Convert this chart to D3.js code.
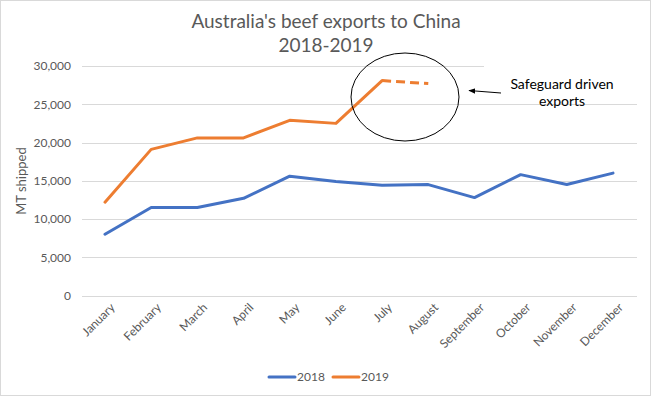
<!DOCTYPE html>
<html>
<head>
<meta charset="utf-8">
<script src="https://cdn.jsdelivr.net/npm/d3@7"></script>
<style>
  body { margin: 0; background: #fff; }
  svg { font-family: Lato, "Open Sans", sans-serif; }
</style>
</head>
<body>
<script>
var months = ["January", "February", "March", "April", "May", "June", "July",
  "August", "September", "October", "November", "December"];
var exports2018 = [8000, 11500, 11500, 12700, 15600, 14900, 14400, 14500, 12800, 15800, 14500, 16000];
var exports2019 = [12200, 19100, 20600, 20600, 22900, 22500, 28100, 27700];
var yTicks = [0, 5000, 10000, 15000, 20000, 25000, 30000];
var seriesNames = ["2018", "2019"];

var w = 651,
    h = 396;
var svg = d3.select('body').append('svg').attr("width", w).attr("height", h);

// outer frame
svg.append('rect')
  .attr("x", 0.5).attr("y", 0.5)
  .attr("width", w - 1).attr("height", h - 1)
  .attr("fill", "#fff").attr("stroke", "#d9d9d9");

var x = d3.scalePoint().domain(months).range([105, 613]);
var y = d3.scaleLinear().domain([0, 30000]).range([295.5, 66]);

// gridlines
svg.append('g').selectAll('line').data(yTicks).enter().append('line')
  .attr("x1", 82).attr("x2", 637)
  .attr("y1", function(d) { return Math.round(y(d)) + 0.5; })
  .attr("y2", function(d) { return Math.round(y(d)) + 0.5; })
  .attr("stroke", "#d9d9d9").attr("stroke-width", 1);

// y axis labels
var yAxis = d3.axisLeft(y).tickValues(yTicks).tickSize(0).tickPadding(0)
  .tickFormat(d3.format(","));
var gy = svg.append('g').attr("transform", "translate(71,0)").call(yAxis);
gy.select('.domain').remove();
gy.selectAll('text').attr("fill", "#595959").style("font-size", "12px")
  .style("font-family", "Lato, 'Open Sans', sans-serif");

// y axis title
svg.append('text')
  .attr("transform", "translate(26,181) rotate(-90)")
  .attr("text-anchor", "middle")
  .attr("fill", "#595959").style("font-size", "13px")
  .text("MT shipped");

// x axis labels
var xAxis = d3.axisBottom(x).tickSize(0).tickPadding(0);
var gx = svg.append('g').attr("transform", "translate(0,300)").call(xAxis);
gx.select('.domain').remove();
gx.selectAll('text')
  .attr("fill", "#595959").style("font-size", "12px")
  .style("font-family", "Lato, 'Open Sans', sans-serif")
  .attr("text-anchor", "end")
  .attr("dy", "0.5em")
  .attr("transform", "translate(6,4) rotate(-45)");

// lines
var line = d3.line()
  .x(function(d, i) { return x(months[i]); })
  .y(function(d) { return y(d); });

svg.append('path').datum(exports2018)
  .attr("d", line)
  .attr("fill", "none").attr("stroke", "#4472c4")
  .attr("stroke-width", 3).attr("stroke-linejoin", "round").attr("stroke-linecap", "round");

// solid part of 2019 (Jan-Jul), dashed last segment (Jul-Aug)
svg.append('path').datum(exports2019.slice(0, 7))
  .attr("d", line)
  .attr("fill", "none").attr("stroke", "#ed7d31")
  .attr("stroke-width", 3).attr("stroke-linejoin", "round").attr("stroke-linecap", "round");

var dashLine = d3.line()
  .x(function(d, i) { return x(months[i + 6]); })
  .y(function(d) { return y(d); });
svg.append('path').datum(exports2019.slice(6, 8))
  .attr("d", dashLine)
  .attr("fill", "none").attr("stroke", "#ed7d31")
  .attr("stroke-width", 3).attr("stroke-dasharray", "9,5");

// title
svg.append('text').attr("x", 326).attr("y", 28)
  .attr("text-anchor", "middle").attr("fill", "#595959")
  .style("font-size", "19px")
  .text("Australia's beef exports to China");
svg.append('text').attr("x", 326).attr("y", 52)
  .attr("text-anchor", "middle").attr("fill", "#595959")
  .style("font-size", "19px")
  .text("2018-2019");

// annotation: circle, arrow, text box
svg.append('ellipse')
  .attr("cx", 405).attr("cy", 97).attr("rx", 54).attr("ry", 44)
  .attr("fill", "none").attr("stroke", "#000").attr("stroke-width", 1);

svg.append('rect')
  .attr("x", 484).attr("y", 62).attr("width", 156).attr("height", 40)
  .attr("fill", "#fff");

svg.append('defs').append('marker')
  .attr("id", "arrowhead")
  .attr("viewBox", "0 0 10 10")
  .attr("refX", 9).attr("refY", 5)
  .attr("markerWidth", 7).attr("markerHeight", 7)
  .attr("orient", "auto")
  .append('path').attr("d", "M0,1 L10,5 L0,9 Z").attr("fill", "#000");

svg.append('line')
  .attr("x1", 501).attr("y1", 93).attr("x2", 469).attr("y2", 90.5)
  .attr("stroke", "#000").attr("stroke-width", 1)
  .attr("marker-end", "url(#arrowhead)");

svg.append('text').attr("x", 562).attr("y", 89)
  .attr("text-anchor", "middle").attr("fill", "#000")
  .style("font-size", "14px").text("Safeguard driven");
svg.append('text').attr("x", 562).attr("y", 106)
  .attr("text-anchor", "middle").attr("fill", "#000")
  .style("font-size", "14px").text("exports");

// legend
var colors = ["#4472c4", "#ed7d31"];
var legend = svg.append('g').selectAll('g').data(seriesNames).enter().append('g')
  .attr("transform", function(d, i) { return "translate(" + (269 + i * 64) + ",377)"; });
legend.append('line')
  .attr("x1", 0).attr("x2", 26).attr("y1", 0).attr("y2", 0)
  .attr("stroke", function(d, i) { return colors[i]; })
  .attr("stroke-width", 3).attr("stroke-linecap", "round");
legend.append('text')
  .attr("x", 28).attr("y", 0).attr("dy", "0.35em")
  .attr("fill", "#595959").style("font-size", "12px")
  .text(function(d) { return d; });
</script>
</body>
</html>
